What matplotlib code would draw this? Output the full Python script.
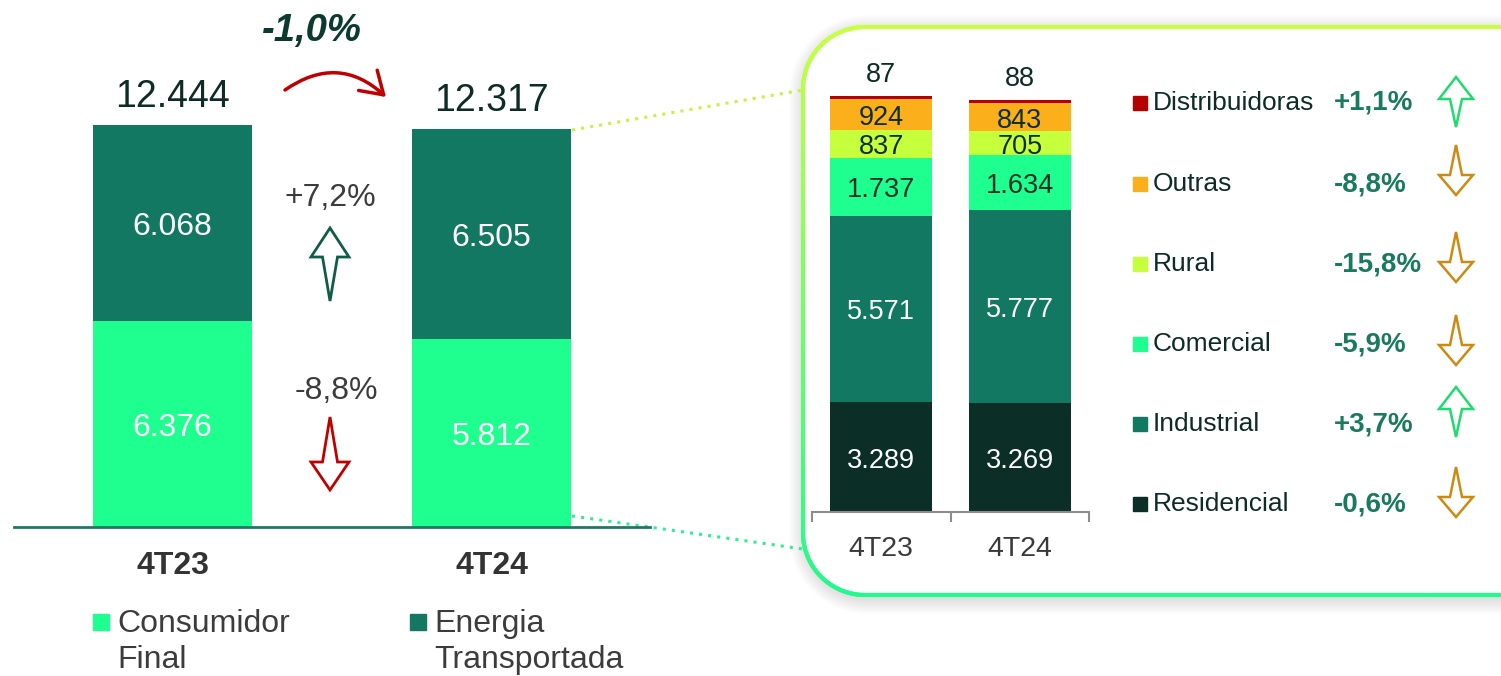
import numpy as np
import matplotlib
matplotlib.use("Agg")
import matplotlib.pyplot as plt
from matplotlib.patches import Polygon, FancyArrowPatch, Rectangle
from matplotlib.collections import LineCollection
from matplotlib.colors import to_rgb

plt.rcParams['font.family'] = ['Liberation Sans', 'DejaVu Sans']

# ---------------- data ----------------
periods = ['4T23', '4T24']
consumidor_final = [6376, 5812]
energia_transportada = [6068, 6505]
var_consumidor = '-8,8%'
var_energia = '+7,2%'
var_total = '-1,0%'
left_series = ['Consumidor\nFinal', 'Energia\nTransportada']

segments = ['Residencial', 'Industrial', 'Comercial', 'Rural', 'Outras', 'Distribuidoras']
residencial = [3289, 3269]
industrial = [5571, 5777]
comercial = [1737, 1634]
rural = [837, 705]
outras = [924, 843]
distribuidoras = [87, 88]
seg_values = [residencial, industrial, comercial, rural, outras, distribuidoras]
seg_var = ['-0,6%', '+3,7%', '-5,9%', '-15,8%', '-8,8%', '+1,1%']

# ---------------- style ----------------
C_BRIGHT = '#1FFF8F'
C_TEAL = '#137861'
C_DARK = '#0B2E26'
C_RURAL = '#C6FF3C'
C_OUTRAS = '#FBAF1A'
C_DISTR = '#B30000'
seg_colors = [C_DARK, C_TEAL, C_BRIGHT, C_RURAL, C_OUTRAS, C_DISTR]
seg_text = ['white', 'white', C_DARK, C_DARK, C_DARK, C_DARK]
TXT = '#0E2C25'
GRAY = '#3C3C3C'

W, H = 1501, 676
fig = plt.figure(figsize=(W / 100, H / 100), dpi=100)


def fmt(v):
    return f"{v:,.0f}".replace(",", ".")


def px_axes(x0, x1, ytop, ybot, z):
    ax = fig.add_axes([x0 / W, 1 - ybot / H, (x1 - x0) / W, (ybot - ytop) / H])
    ax.set_zorder(z)
    ax.patch.set_alpha(0)
    return ax


def shift(labels, dy=-3):
    for t in labels:
        t.xyann = (0, dy)


# overlay in pixel coordinates
ov = fig.add_axes([0, 0, 1, 1])
ov.set_xlim(0, W)
ov.set_ylim(H, 0)
ov.axis('off')
ov.set_zorder(0)


def rounded_pts(x0, y0, x1, y1, r, n=40):
    pts = [(x1, y0)]
    a = np.linspace(np.pi / 2, np.pi, n)
    cx, cy = x0 + r, y0 + r
    pts += list(zip(cx + r * np.cos(a), cy - r * np.sin(a)))
    a = np.linspace(np.pi, 1.5 * np.pi, n)
    cx, cy = x0 + r, y1 - r
    pts += list(zip(cx + r * np.cos(a), cy - r * np.sin(a)))
    pts.append((x1, y1))
    return np.array(pts)


bx0, by0, bx1, by1, br = 803, 27, 1540, 595, 62
# shadow
for d in range(16, 0, -1):
    sp = rounded_pts(bx0 - d + 2, by0 - d + 4, bx1 + d, by1 + d + 3, br + d)
    ov.add_patch(Polygon(sp, closed=True, facecolor='#000000', edgecolor='none', alpha=0.009))
box = rounded_pts(bx0, by0, bx1, by1, br)
ov.add_patch(Polygon(box, closed=True, facecolor='white', edgecolor='none'))
# gradient border
dense = []
for i in range(len(box) - 1):
    p, q = box[i], box[i + 1]
    m = max(2, int(np.hypot(*(q - p)) / 4))
    for t in np.linspace(0, 1, m, endpoint=False):
        dense.append(p + (q - p) * t)
dense.append(box[-1])
dense = np.array(dense)
segs = np.stack([dense[:-1], dense[1:]], axis=1)
c1, c2 = np.array(to_rgb('#C8FF45')), np.array(to_rgb('#22F98E'))
frac = np.clip((segs[:, 0, 1] - by0) / (by1 - by0), 0, 1)[:, None]
cols = c1 * (1 - frac) + c2 * frac
ov.add_collection(LineCollection(segs, colors=cols, linewidths=3, capstyle='round'))

# dotted connectors
ov.plot([572, 803], [130, 90], linestyle=(0, (1, 2)), color='#C8F23E', lw=2.2)
ov.plot([572, 803], [516, 549], linestyle=(0, (1, 2)), color='#2CF090', lw=2.2)


def block_arrow(cx, cy, h, w, sw, hh, up, color, lw=2):
    top, bot = cy - h / 2, cy + h / 2
    if up:
        pts = [(cx, top), (cx + w / 2, top + hh), (cx + sw / 2, top + hh), (cx, bot),
               (cx - sw / 2, top + hh), (cx - w / 2, top + hh)]
    else:
        pts = [(cx, bot), (cx + w / 2, bot - hh), (cx + sw / 2, bot - hh), (cx, top),
               (cx - sw / 2, bot - hh), (cx - w / 2, bot - hh)]
    ov.add_patch(Polygon(pts, closed=True, facecolor='none', edgecolor=color, lw=lw,
                         joinstyle='miter'))


# ---------------- left chart ----------------
axL = px_axes(14, 650, 27, 527, 1)
x = np.arange(len(periods))
scaleL = 402 / 12444
axL.set_xlim(-0.497, 1.497)
axL.set_ylim(0, 500 / scaleL)
b1 = axL.bar(x, consumidor_final, 0.5, color=C_BRIGHT)
b2 = axL.bar(x, energia_transportada, 0.5, bottom=consumidor_final, color=C_TEAL)
shift(axL.bar_label(b1, labels=[fmt(v) for v in consumidor_final], label_type='center',
                    color='white', fontsize=23))
shift(axL.bar_label(b2, labels=[fmt(v) for v in energia_transportada], label_type='center',
                    color='white', fontsize=23))
totals = np.array(consumidor_final) + np.array(energia_transportada)
for i, t in enumerate(totals):
    axL.annotate(fmt(t), (i, t), xytext=(0, 7), textcoords='offset points',
                 ha='center', va='bottom', fontsize=27, color=TXT)
for s in ['top', 'left', 'right']:
    axL.spines[s].set_visible(False)
axL.spines['bottom'].set_color('#1C7A63')
axL.spines['bottom'].set_linewidth(2)
axL.set_yticks([])
axL.set_xticks(x, periods, fontsize=23, fontweight='bold', color='#333333')
axL.tick_params(axis='x', length=0, pad=17)

# left annotations
ov.text(312, 31, var_total, ha='center', va='center', fontsize=27.5, fontweight='bold',
        fontstyle='italic', color='#0C3A2E')
ov.add_patch(FancyArrowPatch((285, 90), (386, 97), connectionstyle='arc3,rad=-0.4',
                             arrowstyle='->,head_length=0.7,head_width=0.45',
                             mutation_scale=22, lw=2.5, color='#C00000',
                             shrinkA=0, shrinkB=0))
ov.text(330, 198, var_energia, ha='center', va='center', fontsize=23, color=GRAY)
block_arrow(330, 264.5, 73, 38, 15, 29, True, '#0F5C47')
ov.text(336, 391, var_consumidor, ha='center', va='center', fontsize=23, color=GRAY)
block_arrow(330, 453.5, 73, 38, 15, 28, False, '#C00000')

# left legend
for (sx, tx), name, col in zip([(93, 117), (410, 434)], left_series, [C_BRIGHT, C_TEAL]):
    ov.add_patch(Rectangle((sx, 614), 16, 16, color=col))
    for k, line in enumerate(name.split('\n')):
        ov.text(tx, 624 + 36 * k, line, ha='left', va='center', fontsize=23, color=GRAY)

# ---------------- right chart ----------------
axR = px_axes(812, 1089, 62, 512, 1)
scaleR = 416 / 12445
axR.set_xlim(-0.5, 1.5)
axR.set_ylim(0, 450 / scaleR)
bottom = np.zeros(len(periods))
for name, vals, col, tc in zip(segments, seg_values, seg_colors, seg_text):
    bars = axR.bar(x, vals, 0.736, bottom=bottom, color=col)
    if name == 'Distribuidoras':
        for i, v in enumerate(vals):
            axR.annotate(fmt(v), (i, bottom[i] + v), xytext=(0, 6), textcoords='offset points',
                         ha='center', va='bottom', fontsize=19.5, color=TXT)
    else:
        shift(axR.bar_label(bars, labels=[fmt(v) for v in vals], label_type='center',
                            color=tc, fontsize=19.5), -2.5)
    bottom += np.array(vals)
for s in ['top', 'left', 'right']:
    axR.spines[s].set_visible(False)
axR.spines['bottom'].set_color('#8C8C8C')
axR.spines['bottom'].set_linewidth(1.5)
axR.set_yticks([])
axR.set_xticks(x, periods, fontsize=20.5, color='#3A3A3A')
axR.set_xticks([-0.5, 0.5, 1.5], minor=True)
axR.tick_params(axis='x', which='major', length=0, pad=17)
axR.tick_params(axis='x', which='minor', length=7, width=1.5, color='#8C8C8C')

# right legend
label_y = [504, 424, 344, 264, 184, 103]
arrow_y = [492, 412, 340, 257, 170, 102]
for name, col, v, ly, ay in zip(segments, seg_colors, seg_var, label_y, arrow_y):
    ov.add_patch(Rectangle((1133, ly - 7), 14, 14, color=col))
    ov.text(1153, ly, name, ha='left', va='center', fontsize=19, color=TXT)
    ov.text(1334, ly, v, ha='left', va='center', fontsize=20, fontweight='bold',
            color='#1A7A5E')
    up = v.startswith('+')
    block_arrow(1456, ay, 50, 34, 12, 22 if up else 20, up,
                '#1EDB6E' if up else '#CD8A12', lw=1.8)

fig.savefig('out.png', dpi=100)
